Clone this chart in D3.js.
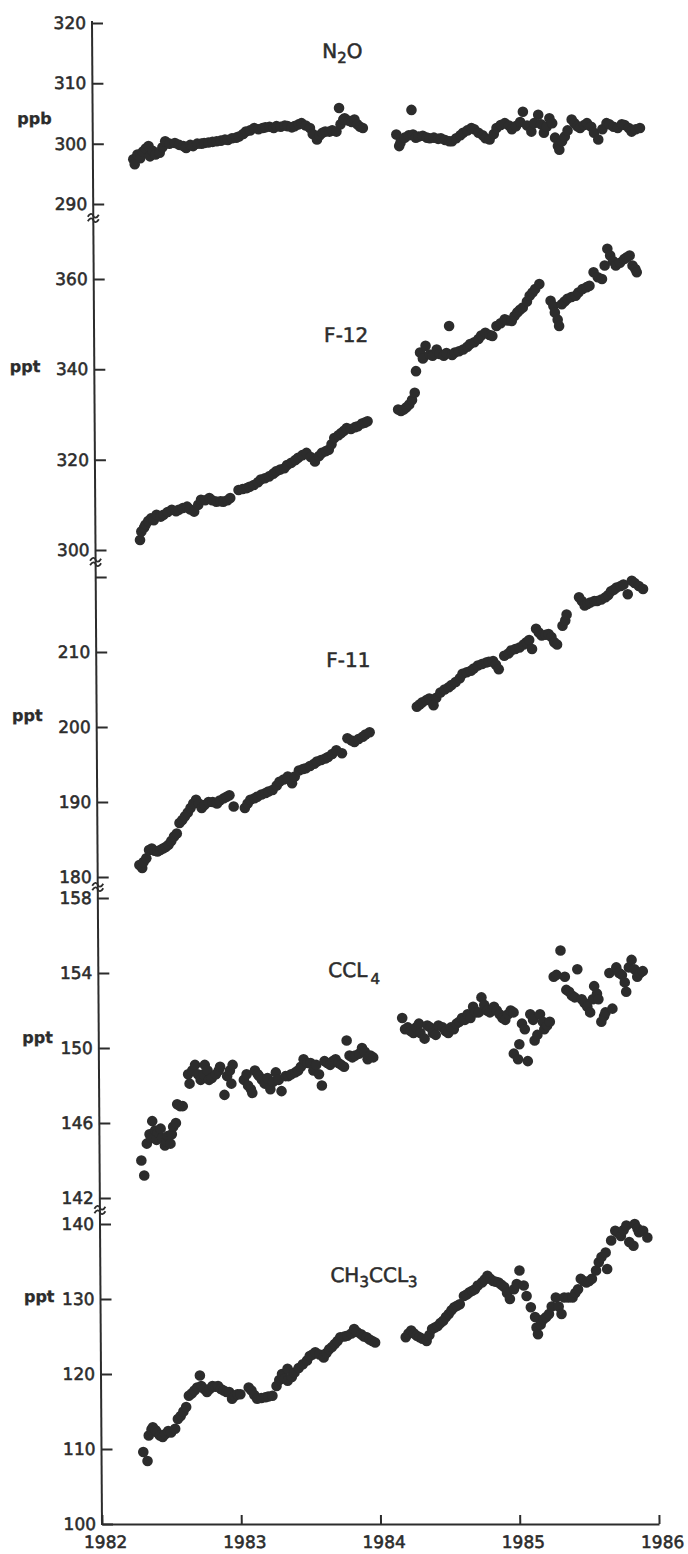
<!DOCTYPE html>
<html>
<head>
<meta charset="utf-8">
<script src="https://cdn.jsdelivr.net/npm/d3@7"></script>
<style>
html,body{margin:0;padding:0;background:#fff;}
svg{display:block;}
</style>
</head>
<body>
<svg id="chart" width="688" height="1554"></svg>
<script>
// ---------------- DATA ----------------
const xTickValues = [1982, 1983, 1984, 1985, 1986];

const n2oTicks = [290, 300, 310, 320];
const f12Ticks = [300, 320, 340, 360];
const f11Ticks = [180, 190, 200, 210, 220];
const f11Labels = [180, 190, 200, 210];
const ccl4Ticks = [142, 146, 150, 154, 158];
const ch3Ticks = [100, 110, 120, 130, 140];

const n2oYears = [1982.29,1982.30,1982.32,1982.34,1982.36,1982.38,1982.40,1982.41,1982.43,1982.45,1982.48,1982.50,1982.52,1982.55,1982.59,1982.62,1982.65,1982.67,1982.70,1982.72,1982.75,1982.78,1982.80,1982.83,1982.86,1982.89,1982.92,1982.95,1982.97,1983.00,1983.03,1983.05,1983.08,1983.10,1983.13,1983.16,1983.19,1983.22,1983.24,1983.27,1983.30,1983.32,1983.35,1983.38,1983.40,1983.43,1983.45,1983.48,1983.50,1983.53,1983.56,1983.58,1983.61,1983.63,1983.65,1983.67,1983.70,1983.72,1983.75,1983.77,1983.78,1983.80,1983.81,1983.84,1983.86,1983.88,1983.90,1983.92,1983.94,
1984.18,1984.20,1984.21,1984.24,1984.27,1984.29,1984.30,1984.32,1984.34,1984.37,1984.40,1984.42,1984.45,1984.48,1984.50,1984.53,1984.56,1984.58,1984.61,1984.64,1984.66,1984.69,1984.72,1984.74,1984.77,1984.80,1984.82,1984.85,1984.88,1984.90,1984.93,1984.96,1984.99,1985.01,1985.04,1985.07,1985.09,1985.12,1985.15,1985.17,1985.20,1985.22,1985.24,1985.26,1985.28,1985.30,1985.32,1985.34,1985.35,1985.37,1985.39,1985.41,1985.44,1985.46,1985.48,1985.50,1985.53,1985.55,1985.58,1985.60,1985.63,1985.66,1985.69,1985.71,1985.74,1985.77,1985.80,1985.82,1985.85,1985.87,1985.90,1985.93];
const n2oValues = [297.4,296.6,298.2,297.6,298.7,299.2,299.6,297.9,298.8,298.2,298.5,299.4,300.4,300.0,300.1,299.8,299.6,299.3,299.8,299.6,300.0,300.0,300.1,300.2,300.3,300.4,300.5,300.7,300.6,300.9,301.0,301.2,301.6,302.0,302.2,302.6,302.4,302.6,302.7,302.8,302.6,302.9,302.8,303.0,302.9,302.7,302.9,303.2,303.4,303.0,302.6,301.6,300.7,301.4,301.8,302.0,302.0,302.2,302.0,305.9,303.2,304.0,304.2,303.8,303.6,304.0,303.2,302.8,302.6,
301.5,299.6,300.2,301.0,301.4,305.6,301.5,301.0,301.2,301.3,301.0,300.9,301.0,300.8,300.9,300.6,300.4,300.4,300.9,301.4,301.8,302.2,302.6,302.4,301.8,301.4,300.9,300.7,301.6,302.6,303.1,303.4,303.0,302.4,302.9,303.6,305.3,303.0,302.0,303.4,304.8,303.2,301.8,302.8,304.2,303.4,301.0,299.6,299.0,300.4,301.2,302.2,304.0,303.4,302.9,302.6,303.1,303.4,302.8,301.8,300.7,302.4,303.4,303.2,302.8,302.6,303.2,303.1,302.6,302.0,302.4,302.6];

const f12Years = [1982.32,1982.33,1982.35,1982.36,1982.38,1982.40,1982.42,1982.44,1982.47,1982.49,1982.52,1982.55,1982.58,1982.60,1982.63,1982.66,1982.68,1982.71,1982.74,1982.76,1982.79,1982.82,1982.84,1982.87,1982.90,1982.92,1982.95,1982.97,1983.03,1983.06,1983.09,1983.11,1983.14,1983.17,1983.19,1983.22,1983.25,1983.28,1983.30,1983.33,1983.36,1983.38,1983.41,1983.44,1983.46,1983.49,1983.52,1983.55,1983.58,1983.61,1983.63,1983.66,1983.68,1983.70,1983.72,1983.75,1983.77,1983.79,1983.81,1983.84,1983.87,1983.89,1983.92,1983.94,1983.96,
1984.18,1984.20,1984.22,1984.24,1984.26,1984.28,1984.30,1984.31,1984.34,1984.36,1984.38,1984.41,1984.43,1984.46,1984.48,1984.51,1984.53,1984.55,1984.57,1984.59,1984.62,1984.65,1984.68,1984.70,1984.73,1984.76,1984.78,1984.81,1984.84,1984.86,1984.89,1984.92,1984.95,1984.97,1985.00,1985.02,1985.04,1985.06,1985.08,1985.11,1985.13,1985.15,1985.17,1985.20,1985.28,1985.30,1985.31,1985.33,1985.34,1985.36,1985.38,1985.40,1985.43,1985.46,1985.48,1985.51,1985.54,1985.56,1985.59,1985.62,1985.65,1985.67,1985.69,1985.71,1985.73,1985.75,1985.78,1985.81,1985.83,1985.85,1985.87,1985.89,1985.90];
const f12Values = [302.2,304.1,305.0,305.6,306.4,307.0,306.6,307.8,307.4,307.8,308.4,308.9,308.6,308.9,309.3,309.6,309.0,308.5,310.0,311.1,311.0,311.5,311.0,310.7,310.8,310.7,311.0,311.5,313.3,313.5,313.7,314.0,314.4,315.0,315.6,315.9,316.3,316.9,317.4,317.8,318.1,318.8,319.3,319.9,320.4,321.0,321.5,320.6,319.6,320.8,321.5,321.9,322.2,323.4,324.8,325.4,325.9,326.4,327.0,326.8,327.2,327.4,328.0,328.2,328.5,
331.1,330.8,331.1,331.6,332.2,333.2,334.8,339.6,343.7,342.4,345.2,343.3,343.0,344.4,343.4,343.0,343.6,349.6,343.2,343.7,344.0,344.4,345.0,345.6,346.0,346.7,347.5,348.1,347.6,347.4,349.6,350.2,351.1,350.8,350.7,351.8,352.6,353.2,353.7,355.0,356.3,357.0,357.8,358.9,355.2,354.0,352.6,351.0,349.6,354.4,355.0,355.6,356.0,356.3,357.0,357.8,358.2,358.5,361.5,360.4,360.0,363.0,366.7,365.2,364.0,363.0,363.6,364.4,364.8,365.2,363.0,362.2,361.5];

const f11Years = [1982.30,1982.32,1982.33,1982.35,1982.37,1982.39,1982.41,1982.43,1982.45,1982.47,1982.49,1982.51,1982.53,1982.55,1982.57,1982.59,1982.61,1982.63,1982.65,1982.67,1982.69,1982.71,1982.73,1982.75,1982.77,1982.80,1982.83,1982.86,1982.88,1982.91,1982.93,1982.95,1982.98,1983.06,1983.08,1983.10,1983.13,1983.15,1983.18,1983.21,1983.23,1983.26,1983.29,1983.31,1983.34,1983.37,1983.40,1983.42,1983.45,1983.48,1983.50,1983.53,1983.56,1983.58,1983.61,1983.64,1983.66,1983.69,1983.72,1983.76,1983.80,1983.83,1983.85,1983.88,1983.91,1983.93,1983.96,
1984.30,1984.32,1984.34,1984.37,1984.39,1984.42,1984.44,1984.47,1984.50,1984.53,1984.55,1984.58,1984.61,1984.63,1984.66,1984.69,1984.71,1984.74,1984.77,1984.80,1984.82,1984.85,1984.87,1984.89,1984.93,1984.96,1984.98,1985.01,1985.04,1985.07,1985.09,1985.11,1985.13,1985.16,1985.18,1985.20,1985.23,1985.25,1985.27,1985.29,1985.31,1985.35,1985.37,1985.38,1985.47,1985.49,1985.51,1985.53,1985.55,1985.58,1985.60,1985.63,1985.66,1985.68,1985.70,1985.72,1985.74,1985.77,1985.79,1985.82,1985.85,1985.87,1985.90,1985.93];
const f11Values = [181.6,181.2,182.0,182.5,183.6,183.8,183.5,183.4,183.6,183.8,184.0,184.3,184.8,185.4,185.8,187.2,187.6,188.1,188.6,189.2,189.8,190.3,189.8,189.2,189.6,190.0,190.0,189.8,190.2,190.5,190.7,190.9,189.4,189.2,189.8,190.3,190.5,190.7,191.0,191.2,191.4,191.6,192.2,192.7,193.0,193.4,192.5,193.4,194.2,194.4,194.5,194.8,195.1,195.4,195.6,195.8,196.0,196.4,196.9,196.5,198.5,198.2,198.0,198.4,198.7,199.0,199.3,
202.7,203.0,203.3,203.6,203.8,202.9,203.9,204.6,205.0,205.3,205.6,206.0,206.5,207.1,207.3,207.5,207.8,208.2,208.4,208.6,208.7,208.8,208.3,207.7,209.5,209.8,210.2,210.4,210.6,211.0,211.3,211.6,210.4,213.1,212.6,212.2,212.3,212.4,212.0,211.3,211.0,213.5,214.2,215.0,217.3,216.8,216.2,216.4,216.6,216.8,216.8,217.0,217.3,217.6,218.1,218.3,218.6,218.8,219.0,217.7,219.5,219.2,218.8,218.4];

const ccl4Years = [1982.30,1982.32,1982.34,1982.36,1982.37,1982.38,1982.40,1982.41,1982.42,1982.44,1982.45,1982.47,1982.48,1982.49,1982.51,1982.52,1982.53,1982.55,1982.56,1982.58,1982.60,1982.64,1982.65,1982.67,1982.69,1982.71,1982.73,1982.75,1982.76,1982.78,1982.79,1982.81,1982.84,1982.86,1982.87,1982.90,1982.92,1982.94,1982.95,1982.96,1983.04,1983.06,1983.07,1983.09,1983.10,1983.12,1983.14,1983.15,1983.17,1983.19,1983.21,1983.23,1983.25,1983.27,1983.29,1983.31,1983.34,1983.36,1983.38,1983.41,1983.43,1983.45,1983.47,1983.50,1983.52,1983.54,1983.56,1983.58,1983.60,1983.62,1983.64,1983.66,1983.68,1983.70,1983.72,1983.74,1983.76,1983.78,1983.80,1983.82,1983.84,1983.87,1983.89,1983.91,1983.93,1983.95,1983.97,
1984.18,1984.20,1984.22,1984.24,1984.26,1984.28,1984.30,1984.31,1984.34,1984.36,1984.38,1984.40,1984.42,1984.44,1984.47,1984.49,1984.51,1984.53,1984.55,1984.57,1984.59,1984.61,1984.63,1984.65,1984.67,1984.69,1984.71,1984.73,1984.75,1984.77,1984.79,1984.81,1984.84,1984.86,1984.88,1984.90,1984.92,1984.94,1984.96,1984.98,1984.98,1985.01,1985.02,1985.04,1985.06,1985.08,1985.10,1985.12,1985.13,1985.15,1985.17,1985.19,1985.20,1985.22,1985.24,1985.27,1985.29,1985.32,1985.35,1985.36,1985.38,1985.40,1985.42,1985.44,1985.47,1985.49,1985.51,1985.53,1985.55,1985.56,1985.58,1985.59,1985.61,1985.63,1985.64,1985.67,1985.69,1985.72,1985.74,1985.76,1985.78,1985.79,1985.81,1985.83,1985.85,1985.87,1985.89,1985.91];
const ccl4Values = [144.0,143.2,144.9,145.4,145.2,146.1,145.6,145.1,145.5,145.7,145.2,144.8,145.0,145.3,144.9,145.4,145.8,146.0,147.0,146.9,146.9,148.6,148.1,148.8,149.1,148.6,148.3,148.6,149.1,148.8,148.3,148.4,148.6,148.8,149.0,147.5,148.5,148.8,148.1,149.1,148.3,148.6,148.0,147.8,147.6,148.8,148.6,148.5,148.3,148.1,148.4,147.8,148.2,148.7,148.3,147.7,148.5,148.5,148.6,148.7,148.8,149.0,149.4,149.2,149.2,148.8,149.1,148.6,148.0,149.3,149.2,149.1,149.3,149.4,149.2,149.1,149.0,150.4,149.6,149.5,149.6,149.7,150.0,149.8,149.4,149.6,149.5,
151.6,151.0,151.1,150.9,150.8,151.1,151.3,150.8,150.5,151.2,151.1,150.8,150.7,151.2,151.1,150.9,150.8,151.1,151.0,151.3,151.4,151.6,151.5,151.8,151.6,152.2,151.9,151.9,152.7,152.3,152.0,151.9,152.2,152.0,151.8,151.6,151.5,151.8,152.0,151.9,149.7,149.4,150.2,151.3,151.0,149.3,151.8,151.5,150.4,150.7,151.8,151.4,151.0,151.2,151.4,153.8,153.9,155.2,153.8,153.1,153.0,152.8,152.7,154.2,152.6,152.4,152.2,151.9,152.6,153.3,152.9,152.6,151.4,151.7,151.9,154.0,152.1,154.3,154.0,153.9,153.5,153.0,154.3,154.7,154.2,153.8,154.0,154.1];

const ch3Years = [1982.30,1982.33,1982.34,1982.36,1982.37,1982.39,1982.40,1982.42,1982.44,1982.46,1982.48,1982.50,1982.53,1982.55,1982.57,1982.59,1982.61,1982.63,1982.65,1982.67,1982.69,1982.71,1982.72,1982.74,1982.76,1982.78,1982.80,1982.82,1982.84,1982.86,1982.88,1982.90,1982.92,1982.94,1982.96,1982.98,1983.00,1983.06,1983.08,1983.10,1983.12,1983.15,1983.18,1983.20,1983.23,1983.26,1983.28,1983.30,1983.32,1983.34,1983.34,1983.37,1983.39,1983.42,1983.45,1983.48,1983.50,1983.52,1983.54,1983.57,1983.60,1983.62,1983.64,1983.66,1983.68,1983.70,1983.72,1983.75,1983.77,1983.80,1983.82,1983.84,1983.87,1983.89,1983.91,1983.93,1983.95,1983.97,
1984.19,1984.21,1984.23,1984.25,1984.27,1984.29,1984.31,1984.34,1984.36,1984.38,1984.40,1984.42,1984.44,1984.46,1984.48,1984.50,1984.52,1984.54,1984.56,1984.58,1984.61,1984.63,1984.65,1984.67,1984.69,1984.71,1984.74,1984.76,1984.78,1984.80,1984.82,1984.84,1984.86,1984.88,1984.90,1984.92,1984.94,1984.97,1984.99,1985.01,1985.04,1985.06,1985.09,1985.12,1985.13,1985.14,1985.16,1985.18,1985.20,1985.22,1985.24,1985.27,1985.29,1985.31,1985.33,1985.36,1985.39,1985.41,1985.43,1985.45,1985.47,1985.49,1985.51,1985.53,1985.56,1985.58,1985.60,1985.63,1985.64,1985.67,1985.70,1985.72,1985.74,1985.76,1985.78,1985.80,1985.83,1985.84,1985.86,1985.87,1985.90,1985.93];
const ch3Values = [109.6,108.4,111.8,112.6,112.9,112.5,112.2,111.8,111.6,112.0,112.4,112.2,112.7,114.0,114.4,115.0,115.6,117.1,117.4,117.8,118.2,119.8,118.4,118.0,117.6,118.0,118.4,118.3,118.4,118.0,117.8,117.6,117.6,116.7,117.1,117.3,117.3,118.2,117.8,117.2,116.7,116.8,116.9,117.0,117.1,118.4,119.2,120.0,119.4,120.7,119.1,119.6,120.2,120.8,121.3,121.8,122.4,122.6,122.9,122.6,122.2,122.8,123.3,123.6,124.0,124.4,124.9,125.0,125.1,125.4,126.0,125.6,125.3,125.0,124.9,124.6,124.4,124.2,
124.9,125.4,125.8,125.4,125.1,124.9,124.7,124.4,125.2,126.0,126.2,126.4,126.8,127.1,127.6,128.0,128.5,128.9,129.1,129.3,130.4,130.6,130.9,131.1,131.3,131.8,132.2,132.6,133.1,132.7,132.4,132.3,132.2,131.9,131.6,130.8,130.0,131.3,132.0,133.8,131.8,130.4,128.9,127.6,126.2,125.3,126.6,127.3,127.6,128.0,129.0,130.2,129.0,128.0,130.2,130.2,130.2,130.8,131.3,132.7,132.4,132.2,132.4,132.7,133.8,134.9,135.6,136.2,134.0,137.8,139.1,138.8,138.4,139.2,139.8,137.6,137.1,140.0,139.4,138.9,139.1,138.2];

// ---------------- LAYOUT ----------------
const INK = "#2c2c2c";
const FONT = "'DejaVu Sans', 'Liberation Sans', sans-serif";
const AXIS_X = 102, AXIS_BOTTOM = 1524, AXIS_TOP = 21;

const panels = [
  {title: [["N",0],["2",1],["O",0]], titleY: 58, unit: "ppb", unitX: 61, unitY: 124,
   years: n2oYears, values: n2oValues, domain: [290, 320], range: [204, 23],
   ticks: n2oTicks, labels: n2oTicks, breakY: 218},
  {title: [["F-12",0]], titleY: 342, unit: "ppt", unitX: 48, unitY: 372,
   years: f12Years, values: f12Values, domain: [300, 360], range: [550, 279],
   ticks: f12Ticks, labels: f12Ticks, breakY: 562},
  {title: [["F-11",0]], titleY: 667, unit: "ppt", unitX: 48, unitY: 721,
   years: f11Years, values: f11Values, domain: [180, 220], range: [877, 577],
   ticks: f11Ticks, labels: f11Labels, breakY: 887},
  {title: [["CCL",0],["4",2]], titleY: 977, unit: "ppt", unitX: 56, unitY: 1043,
   years: ccl4Years, values: ccl4Values, domain: [142, 158], range: [1198, 898],
   ticks: ccl4Ticks, labels: ccl4Ticks, breakY: 1210},
  {title: [["CH",0],["3",1],["CCL",0],["3",1]], titleY: 1282, unit: "ppt", unitX: 56, unitY: 1302,
   years: ch3Years, values: ch3Values, domain: [100, 140], range: [1524, 1224],
   ticks: ch3Ticks, labels: ch3Ticks, breakY: null}
];

const svg = d3.select("#chart");
svg.append("rect").attr("width", 688).attr("height", 1554).attr("fill", "#fff");

// slight scan skew: top of the figure sits ~10px left of the bottom
const k = 10 / 1501;
const deg = Math.atan(k) * 180 / Math.PI;
const g = svg.append("g").attr("transform", `translate(${-AXIS_BOTTOM * k},0) skewX(${deg})`);

const x = d3.scaleLinear().domain([1982, 1986]).range([AXIS_X, 659]);

const inkText = sel => sel.attr("fill", INK).attr("stroke", INK).attr("stroke-width", 0.55)
  .style("font-family", FONT);

// vertical axis line
g.append("line").attr("x1", AXIS_X).attr("x2", AXIS_X).attr("y1", AXIS_TOP).attr("y2", AXIS_BOTTOM + 1)
  .attr("stroke", INK).attr("stroke-width", 2);

panels.forEach(p => {
  const y = d3.scaleLinear().domain(p.domain).range(p.range);

  const ax = d3.axisLeft(y).tickValues(p.ticks)
    .tickFormat(d => p.labels.includes(d) ? String(d) : "")
    .tickSize(-11).tickSizeOuter(0).tickPadding(6);
  const axg = g.append("g").attr("transform", `translate(${AXIS_X},0)`).call(ax);
  axg.select(".domain").remove();
  axg.selectAll(".tick line").attr("stroke", INK).attr("stroke-width", 2);
  axg.selectAll(".tick text").call(inkText).style("font-size", "17px");

  // dots
  g.append("g").selectAll("circle")
    .data(d3.zip(p.years, p.values))
    .join("circle")
    .attr("cx", d => x(d[0]))
    .attr("cy", d => y(d[1]))
    .attr("r", 5.3)
    .attr("fill", INK);

  // title
  const t = g.append("text").attr("x", 332).attr("y", p.titleY)
    .call(inkText).style("font-size", "20px");
  let shift = 0;
  p.title.forEach(([s, sub]) => {
    const target = sub === 1 ? 5 : (sub === 2 ? 7 : 0);
    const ts = t.append("tspan").text(s).attr("dy", target - shift);
    if (sub) ts.style("font-size", "15px").attr("dx", sub === 2 ? 3 : 0);
    shift = target;
  });

  // unit
  g.append("text").attr("x", p.unitX).attr("y", p.unitY).attr("text-anchor", "end")
    .call(inkText).attr("stroke-width", 0.3)
    .style("font-size", "16px").style("font-weight", "bold")
    .text(p.unit);

  // axis break mark
  if (p.breakY !== null) {
    const b = g.append("g").attr("fill", "none").attr("stroke", INK).attr("stroke-width", 1.8);
    [-2.3, 2.3].forEach(o => {
      const cy = p.breakY + o;
      b.append("path").attr("d",
        `M${AXIS_X - 5.5},${cy + 1} C${AXIS_X - 3.5},${cy - 2.7} ${AXIS_X - 1},${cy - 2.7} ${AXIS_X},${cy} S${AXIS_X + 3.5},${cy + 2.7} ${AXIS_X + 5.5},${cy - 1}`);
    });
  }
});

// bottom axis
const xAxis = d3.axisBottom(x).tickValues(xTickValues).tickFormat(d3.format("d"))
  .tickSize(-9).tickSizeOuter(0).tickPadding(12);
const xg = g.append("g").attr("transform", `translate(0,${AXIS_BOTTOM})`).call(xAxis);
xg.select(".domain").attr("stroke", INK).attr("stroke-width", 2);
xg.selectAll(".tick line").attr("stroke", INK).attr("stroke-width", 2);
xg.selectAll(".tick text").call(inkText).attr("dx", 3).style("font-size", "17px");
</script>
</body>
</html>
